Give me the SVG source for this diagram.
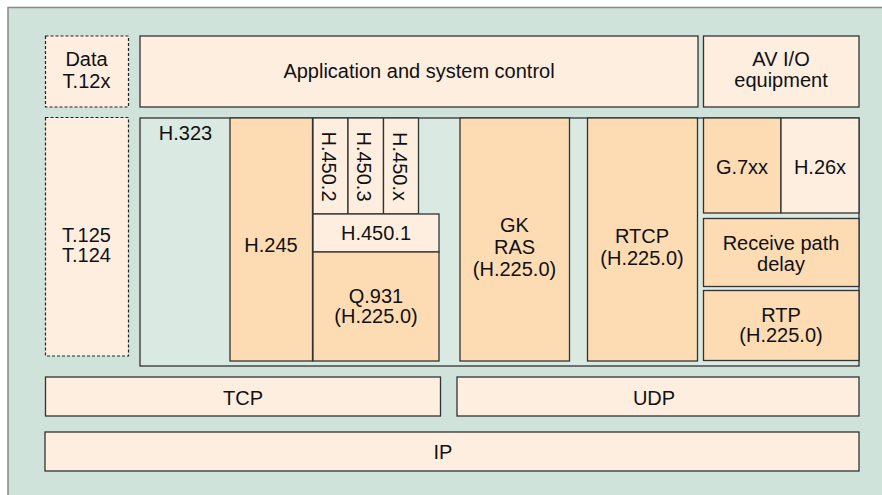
<svg xmlns="http://www.w3.org/2000/svg" width="882" height="495" viewBox="0 0 882 495">
<style>
.box{stroke:#333;stroke-width:1.3}
.lt{fill:#feeee0}
.dk{fill:#fddcb4}
.dash{fill:#feeee0;stroke:#222;stroke-width:1.2;stroke-dasharray:3 2}
text{font-family:"Liberation Sans",Arial,sans-serif;font-size:20px;fill:#111;text-anchor:middle}
</style>
<rect x="8" y="7.5" width="880" height="495" fill="#cfe3da" stroke="#888" stroke-width="1.5"/>
<g id="data"><rect class="dash" x="45.5" y="36" width="83" height="71"/><text x="86.5" y="66">Data</text><text x="86.5" y="88">T.12x</text></g>
<g id="app"><rect class="box lt" x="140" y="36" width="558" height="71"/><text x="419" y="78">Application and system control</text></g>
<g id="av"><rect class="box lt" x="703.5" y="36" width="155.5" height="71"/><text x="781" y="66">AV I/O</text><text x="781" y="87">equipment</text></g>
<g id="t125"><rect class="dash" x="45.5" y="117.5" width="83" height="238.5"/><text x="86.5" y="242">T.125</text><text x="86.5" y="262">T.124</text></g>
<g id="h323"><rect class="box" fill="#dae9e2" x="140" y="118" width="719" height="248"/><text x="185.5" y="140">H.323</text></g>
<g id="h245"><rect class="box dk" x="230" y="118" width="82.5" height="243"/><text x="271" y="252">H.245</text></g>
<g id="h4502"><rect class="box lt" x="313" y="118" width="35" height="96"/><text transform="translate(322,166.5) rotate(90)">H.450.2</text></g>
<g id="h4503"><rect class="box lt" x="348" y="118" width="35.5" height="96"/><text transform="translate(357,166.5) rotate(90)">H.450.3</text></g>
<g id="h450x"><rect class="box lt" x="383.5" y="118" width="35" height="96"/><text transform="translate(393,166.5) rotate(90)">H.450.x</text></g>
<g id="h4501"><rect class="box lt" x="313" y="214" width="126" height="38"/><text x="376" y="240">H.450.1</text></g>
<g id="q931"><rect class="box dk" x="313" y="252" width="126" height="109"/><text x="376" y="303">Q.931</text><text x="376" y="323">(H.225.0)</text></g>
<g id="gkras"><rect class="box dk" x="460" y="118" width="109.5" height="243"/><text x="514.5" y="232">GK</text><text x="514.5" y="254">RAS</text><text x="514.5" y="276">(H.225.0)</text></g>
<g id="rtcp"><rect class="box dk" x="587.5" y="118" width="110" height="243"/><text x="642" y="243">RTCP</text><text x="642" y="265">(H.225.0)</text></g>
<g id="g7xx"><rect class="box dk" x="703.5" y="118" width="77.5" height="95"/><text x="742" y="174">G.7xx</text></g>
<g id="h26x"><rect class="box lt" x="781" y="118" width="78" height="95"/><text x="820" y="174">H.26x</text></g>
<g id="rpd"><rect class="box dk" x="703.5" y="218.5" width="155.5" height="68"/><text x="781" y="250">Receive path</text><text x="781" y="271">delay</text></g>
<g id="rtp"><rect class="box dk" x="703.5" y="290.5" width="155.5" height="70"/><text x="781" y="322">RTP</text><text x="781" y="342">(H.225.0)</text></g>
<g id="tcp"><rect class="box lt" x="45.5" y="377" width="395" height="39"/><text x="243" y="405">TCP</text></g>
<g id="udp"><rect class="box lt" x="457" y="377" width="402" height="39"/><text x="654" y="405">UDP</text></g>
<g id="ip"><rect class="box lt" x="45" y="432" width="814" height="39"/><text x="443" y="459">IP</text></g>
<g id="connectors"/>
</svg>
